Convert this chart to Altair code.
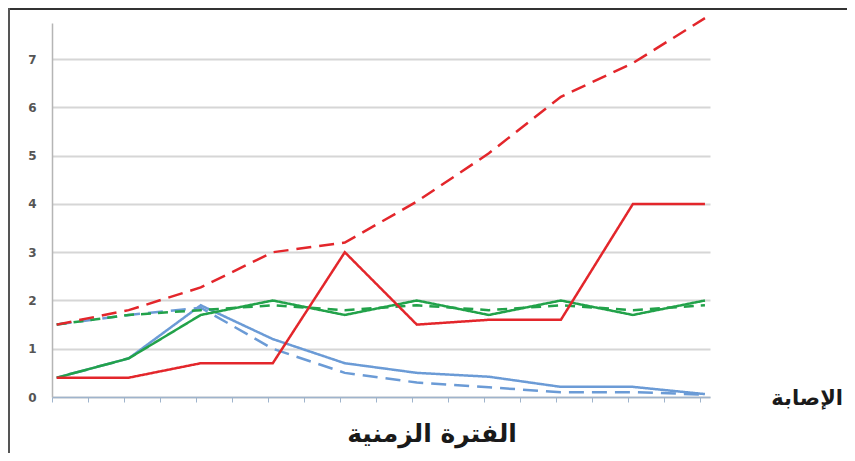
import altair as alt
import pandas as pd

# ---- data ----
periods = list(range(10))
blue_solid = [0.4, 0.8, 1.9, 1.2, 0.7, 0.5, 0.42, 0.21, 0.21, 0.06]
blue_dashed = [1.5, 1.7, 1.85, 1.0, 0.5, 0.3, 0.2, 0.1, 0.1, 0.05]
green_solid = [0.4, 0.8, 1.7, 2.0, 1.7, 2.0, 1.7, 2.0, 1.7, 2.0]
green_dashed = [1.5, 1.7, 1.8, 1.9, 1.8, 1.9, 1.8, 1.9, 1.8, 1.9]
red_solid = [0.4, 0.4, 0.7, 0.7, 3.0, 1.5, 1.6, 1.6, 4.0, 4.0]
red_dashed = [1.5, 1.8, 2.27, 3.0, 3.2, 4.05, 5.05, 6.22, 6.92, 7.85]

series_names = ["1 blue solid", "2 blue dashed", "3 green solid",
                "4 green dashed", "5 red solid", "6 red dashed"]
series_values = [blue_solid, blue_dashed, green_solid,
                 green_dashed, red_solid, red_dashed]
series_colors = ["#6b9bd6", "#6b9bd6", "#22a24a", "#22a24a", "#e3262b", "#e3262b"]
series_dash = [[1, 0], [15, 8], [1, 0], [10, 7], [1, 0], [15, 8]]

y_ticks = [0, 1, 2, 3, 4, 5, 6, 7]
x_tick_positions = [-0.065 + 0.5 * k for k in range(19)]

x_title = "الفترة الزمنية"
y_title = "الإصابة"

rows = []
for name, vals in zip(series_names, series_values):
    for p, v in zip(periods, vals):
        rows.append({"series": name, "x": p, "y": v})
df = pd.DataFrame(rows)

lines = alt.Chart(df).mark_line(strokeWidth=2.5, clip=False).encode(
    x=alt.X("x:Q",
            scale=alt.Scale(domain=[-0.065, 9.07], nice=False, zero=False),
            axis=alt.Axis(values=x_tick_positions, labels=False, title=None,
                          grid=False, tickColor="#9fb4cc", tickSize=5,
                          tickWidth=1, domainColor="#9fb4cc", domainWidth=1.5)),
    y=alt.Y("y:Q",
            scale=alt.Scale(domain=[0, 7.75], nice=False),
            axis=alt.Axis(values=y_ticks, title=None, ticks=False,
                          labelPadding=16, labelFont="DejaVu Sans",
                          labelFontWeight="bold", labelFontSize=12,
                          labelColor="#555555", gridColor="#d6d6d6",
                          gridWidth=2, domainColor="#b5b5b5", domainWidth=1.5)),
    color=alt.Color("series:N", scale=alt.Scale(domain=series_names, range=series_colors),
                    legend=None),
    strokeDash=alt.StrokeDash("series:N",
                              scale=alt.Scale(domain=series_names, range=series_dash),
                              legend=None),
    detail="series:N",
)

title_df = pd.DataFrame({"t": [x_title]})
x_label = alt.Chart(title_df).mark_text(
    font="DejaVu Sans", fontWeight="bold", fontSize=25, color="#1a1a1a",
    align="center", baseline="middle"
).encode(x=alt.value(380), y=alt.value(411), text="t:N")

ylab_df = pd.DataFrame({"t": [y_title]})
y_label = alt.Chart(ylab_df).mark_text(
    font="DejaVu Sans", fontWeight="bold", fontSize=21, color="#1a1a1a",
    align="right", baseline="middle"
).encode(x=alt.value(791), y=alt.value(376), text="t:N")

dummy = pd.DataFrame({"k": [0]})
top_border = alt.Chart(dummy).mark_rule(color="#333333", strokeWidth=2).encode(
    x=alt.value(-44), x2=alt.value(800), y=alt.value(-14))
left_border = alt.Chart(dummy).mark_rule(color="#555555", strokeWidth=2).encode(
    x=alt.value(-43), y=alt.value(-15), y2=alt.value(440))

chart = alt.layer(lines, x_label, y_label, top_border, left_border).properties(
    width=658, height=374,
    padding={"left": 44, "top": 15, "right": 137, "bottom": 56},
    autosize=alt.AutoSizeParams(type="none"),
).configure_view(stroke=None)

chart.save("out.html", embed_options={"renderer": "svg", "actions": False})
